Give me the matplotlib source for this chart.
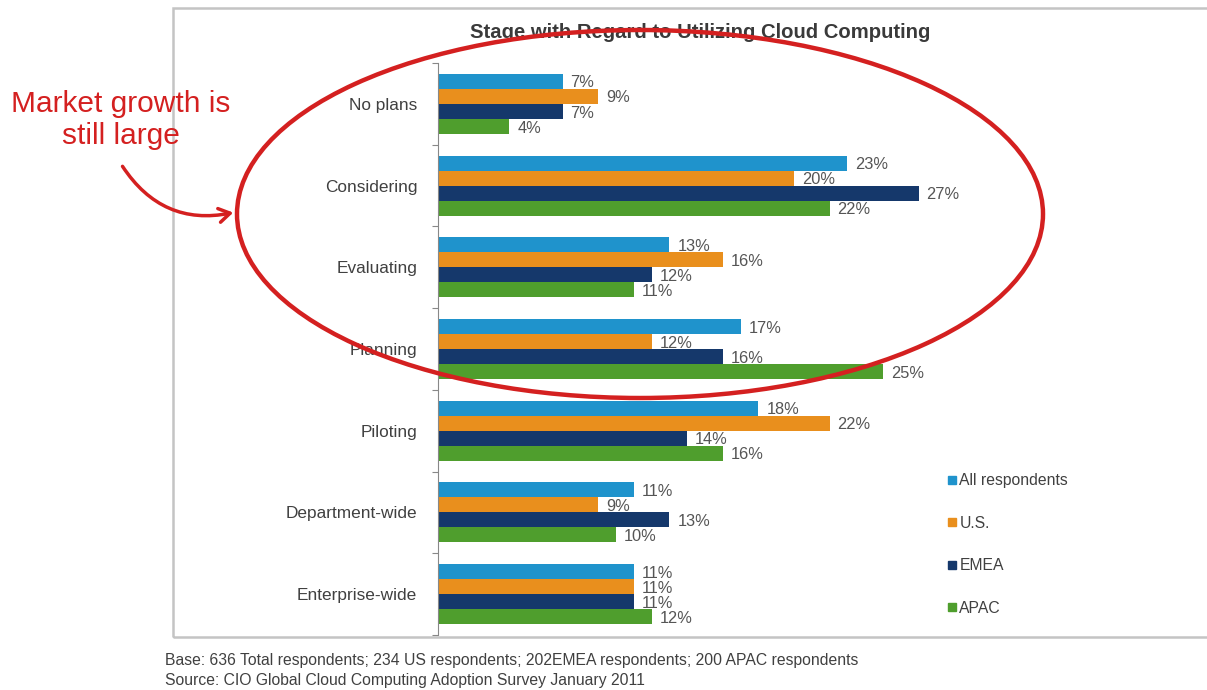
import matplotlib
matplotlib.use("Agg")
import matplotlib.pyplot as plt
from matplotlib.patches import Ellipse, Rectangle, FancyArrowPatch
from matplotlib.lines import Line2D
import numpy as np

categories = ["No plans", "Considering", "Evaluating", "Planning", "Piloting",
              "Department-wide", "Enterprise-wide"]
series_names = ["All respondents", "U.S.", "EMEA", "APAC"]
all_resp = [7, 23, 13, 17, 18, 11, 11]
us = [9, 20, 16, 12, 22, 9, 11]
emea = [7, 27, 12, 16, 14, 13, 11]
apac = [4, 22, 11, 25, 16, 10, 12]
series_values = [all_resp, us, emea, apac]
colors = ["#1f93cc", "#e98f1d", "#15386b", "#4f9e2d"]

title = "Stage with Regard to Utilizing Cloud Computing"
footer1 = "Base: 636 Total respondents; 234 US respondents; 202EMEA respondents; 200 APAC respondents"
footer2 = "Source: CIO Global Cloud Computing Adoption Survey January 2011"
note = "Market growth is\nstill large"

W, H = 1207, 690
plt.rcParams['font.family'] = ['Liberation Sans', 'DejaVu Sans']
fig = plt.figure(figsize=(W / 100, H / 100), dpi=100)
fig.patch.set_facecolor("white")

def fx(x):
    return x / W

def fy(y):
    return 1 - y / H

# outer frame
fig.patches.append(Rectangle((fx(173), fy(637)), fx(1215) - fx(173), fy(8) - fy(637),
                             transform=fig.transFigure, fill=False,
                             edgecolor="#c4c4c4", linewidth=1.8, zorder=0))

ax_left, ax_right, ax_top, ax_bot = 438, 1100, 63, 635
ax = fig.add_axes([fx(ax_left), fy(ax_bot), fx(ax_right - ax_left), fy(ax_top) - fy(ax_bot)])
px_per_pct = 17.8
ax.set_xlim(0, (ax_right - ax_left) / px_per_pct)
n = len(categories)
ax.set_ylim(n - 0.5, -0.5)

bar_h = 0.184
offsets = (np.arange(4) - 1.5) * bar_h
y = np.arange(n)
for i, (vals, c) in enumerate(zip(series_values, colors)):
    ax.barh(y + offsets[i], vals, height=bar_h, color=c, edgecolor="none", zorder=2)
    for yy, v in zip(y + offsets[i], vals):
        ax.text(v + 0.45, yy + 0.02, f"{v}%", va="center", ha="left",
                fontsize=11.8, color="#555555")

ax.set_xticks([])
ax.set_yticks(np.arange(-0.5, n, 1.0))
ax.set_yticklabels([])
ax.set_yticks(y, minor=True)
ax.set_yticklabels(categories, minor=True, fontsize=12.4, color="#404040")
ax.tick_params(axis="y", which="minor", length=0, pad=15)
ax.tick_params(axis="y", which="major", length=4, color="#888888", width=0.8)
for s in ["top", "right", "bottom"]:
    ax.spines[s].set_visible(False)
ax.spines["left"].set_color("#888888")
ax.spines["left"].set_linewidth(0.8)
ax.patch.set_alpha(0)

# legend
handles = [Line2D([], [], marker="s", linestyle="none", markersize=5.5,
                  markerfacecolor=c, markeredgecolor=c) for c in colors]
fig.legend(handles, series_names, loc="upper left",
           bbox_to_anchor=(fx(932), fy(459)), frameon=False, fontsize=11.3,
           labelspacing=1.75, handletextpad=0.05, handlelength=0.8,
           labelcolor="#404040")

# title
fig.text(fx(700), fy(33), title, ha="center", va="center", fontsize=14.6,
         fontweight="bold", color="#3a3a3a")

# footer
fig.text(fx(165), fy(661), footer1, ha="left", va="center", fontsize=11.3, color="#404040")
fig.text(fx(165), fy(680), footer2, ha="left", va="center", fontsize=11.3, color="#404040")

# annotation
red = "#d42020"
fig.text(fx(121), fy(120), note, ha="center", va="center", fontsize=21.5,
         color=red, linespacing=1.2)
fig.patches.append(Ellipse((fx(640), fy(214)), fx(806), 368 / H,
                           transform=fig.transFigure, fill=False,
                           edgecolor=red, linewidth=3.2, zorder=5))
fig.patches.append(FancyArrowPatch((fx(121), fy(164)), (fx(236), fy(212)),
                                   transform=fig.transFigure,
                                   connectionstyle="arc3,rad=0.35",
                                   arrowstyle="->,head_length=8,head_width=5",
                                   color=red, linewidth=2.5, zorder=5))

fig.savefig("out.png", dpi=100, facecolor="white")
